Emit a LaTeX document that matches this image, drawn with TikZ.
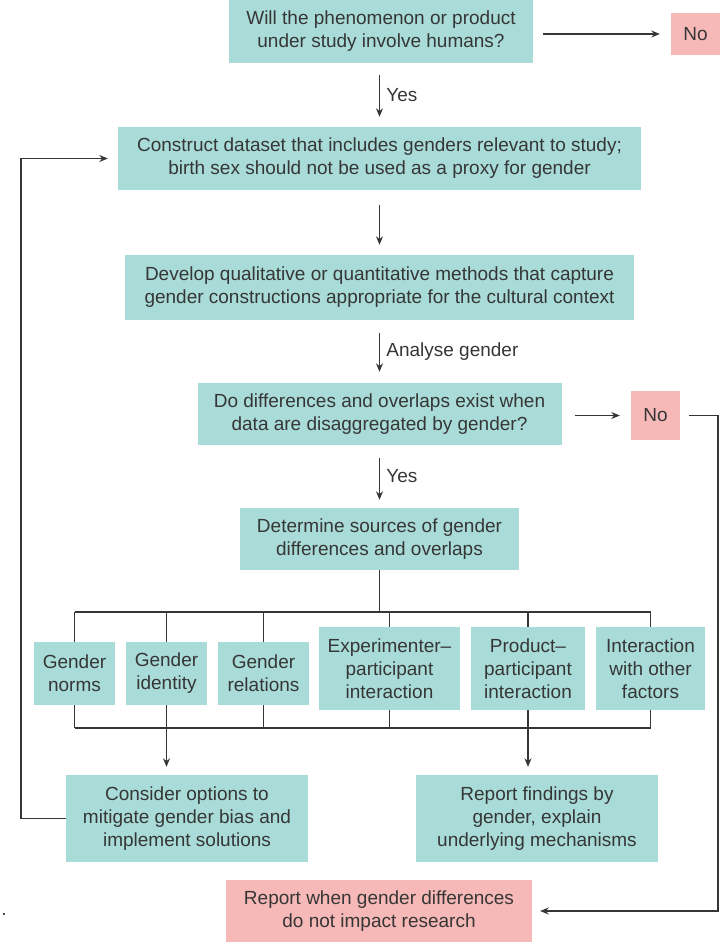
\documentclass[tikz,border=0pt]{standalone}
\usepackage{fontspec}
\setmainfont{Liberation Sans}
\usetikzlibrary{arrows.meta}
\definecolor{tealbox}{HTML}{A9DCD8}
\definecolor{pinkbox}{HTML}{F6B9B7}
\definecolor{inkgray}{HTML}{363636}

\begin{document}
\begin{tikzpicture}[x=1pt, y=-1pt,
    every node/.style={text=inkgray, font=\fontsize{19}{23}\selectfont},
    box/.style={fill=tealbox, inner sep=0pt, align=center},
    nobox/.style={fill=pinkbox, inner sep=0pt, align=center},
    arr/.style={draw=inkgray, line width=1.1pt, -{Stealth[length=8.5pt,width=7pt]}},
    ln/.style={draw=inkgray, line width=1.1pt}]
      \useasboundingbox (0,0) rectangle (720,942);
      % main column
      \node[box, minimum width=304, minimum height=63] (humans) at (381, 31.5) {Will the phenomenon or product\\under study involve humans?};
      \node[nobox, minimum width=49, minimum height=42] (no1) at (695.5, 34) {No};
      \node[box, minimum width=523, minimum height=63] (dataset) at (379.5, 158.5) {Construct dataset that includes genders relevant to study;\\birth sex should not be used as a proxy for gender};
      \node[box, minimum width=509, minimum height=65] (methods) at (379.5, 287.5) {Develop qualitative or quantitative methods that capture\\gender constructions appropriate for the cultural context};
      \node[box, minimum width=364, minimum height=62] (disagg) at (379.5, 414) {Do differences and overlaps exist when\\data are disaggregated by gender?};
      \node[nobox, minimum width=49, minimum height=49] (no2) at (655.5, 415.5) {No};
      \node[box, minimum width=279, minimum height=62] (sources) at (379.5, 539) {Determine sources of gender\\differences and overlaps};
      % sources of differences
      \node[box, minimum width=81, minimum height=63] (norms) at (74.5, 673.5) {Gender\\norms};
      \node[box, minimum width=81, minimum height=63] (identity) at (166.5, 673.5) {Gender\\identity};
      \node[box, minimum width=91, minimum height=63] (relations) at (263.5, 673.5) {Gender\\relations};
      \node[box, minimum width=141, minimum height=83] (experimenter) at (389.5, 668.5) {Experimenter--\\participant\\interaction};
      \node[box, minimum width=114, minimum height=83] (product) at (528, 668.5) {Product--\\participant\\interaction};
      \node[box, minimum width=109, minimum height=83] (factors) at (650.5, 668.5) {Interaction\\with other\\factors};
      % outcomes
      \node[box, minimum width=242, minimum height=87] (mitigate) at (187, 818.5) {Consider options to\\mitigate gender bias and\\implement solutions};
      \node[box, minimum width=242, minimum height=87] (findings) at (537, 818.5) {Report findings by\\gender, explain\\underlying mechanisms};
      \node[nobox, minimum width=306, minimum height=62] (noimpact) at (379, 911) {Report when gender differences\\do not impact research};
      \node (dot) at (4, 914) {.};
      \coordinate (bustop) at (379.5, 612);
      \coordinate (busbot) at (379.5, 728);
      \coordinate (leftx) at (21, 0);
      \coordinate (rightx) at (718, 0);
      % connectors
      \draw[arr, shorten <=10pt, shorten >=11pt] (humans.east |- no1.west) -- (no1.west);
      \draw[arr, shorten <=12pt, shorten >=10pt] (humans.south -| dataset.north) -- node[right, xshift=3pt] {Yes} (dataset.north);
      \draw[arr, shorten <=15pt, shorten >=10pt] (dataset.south) -- (methods.north);
      \draw[arr, shorten <=13pt, shorten >=11pt] (methods.south) -- node[right, xshift=3pt] {Analyse gender} (disagg.north);
      \draw[arr, shorten <=13pt, shorten >=11pt] (disagg.east |- no2.west) -- (no2.west);
      \draw[arr, shorten <=13pt, shorten >=8pt] (disagg.south) -- node[right, xshift=3pt] {Yes} (sources.north);
      \draw[ln] (sources.south) -- (bustop);
      \draw[ln] (norms.north |- bustop) -- (factors.north |- bustop);
      \foreach \n in {norms, identity, relations, experimenter, product, factors}
        \draw[ln] (\n.north |- bustop) -- (\n.north);
      \draw[ln] (norms.south |- busbot) -- (factors.south |- busbot);
      \foreach \n in {norms, relations, experimenter, factors}
        \draw[ln] (\n.south) -- (\n.south |- busbot);
      \draw[arr, shorten >=8pt] (identity.south) -- (identity.south |- mitigate.north);
      \draw[arr, shorten >=8pt] (product.south) -- (product.south |- findings.north);
      \draw[arr, shorten >=10pt] (mitigate.west) -- (mitigate.west -| leftx) |- (dataset.west);
      \draw[arr, shorten <=9pt, shorten >=8pt] (no2.east) -- (no2.east -| rightx) |- (noimpact.east);
\end{tikzpicture}
\end{document}
